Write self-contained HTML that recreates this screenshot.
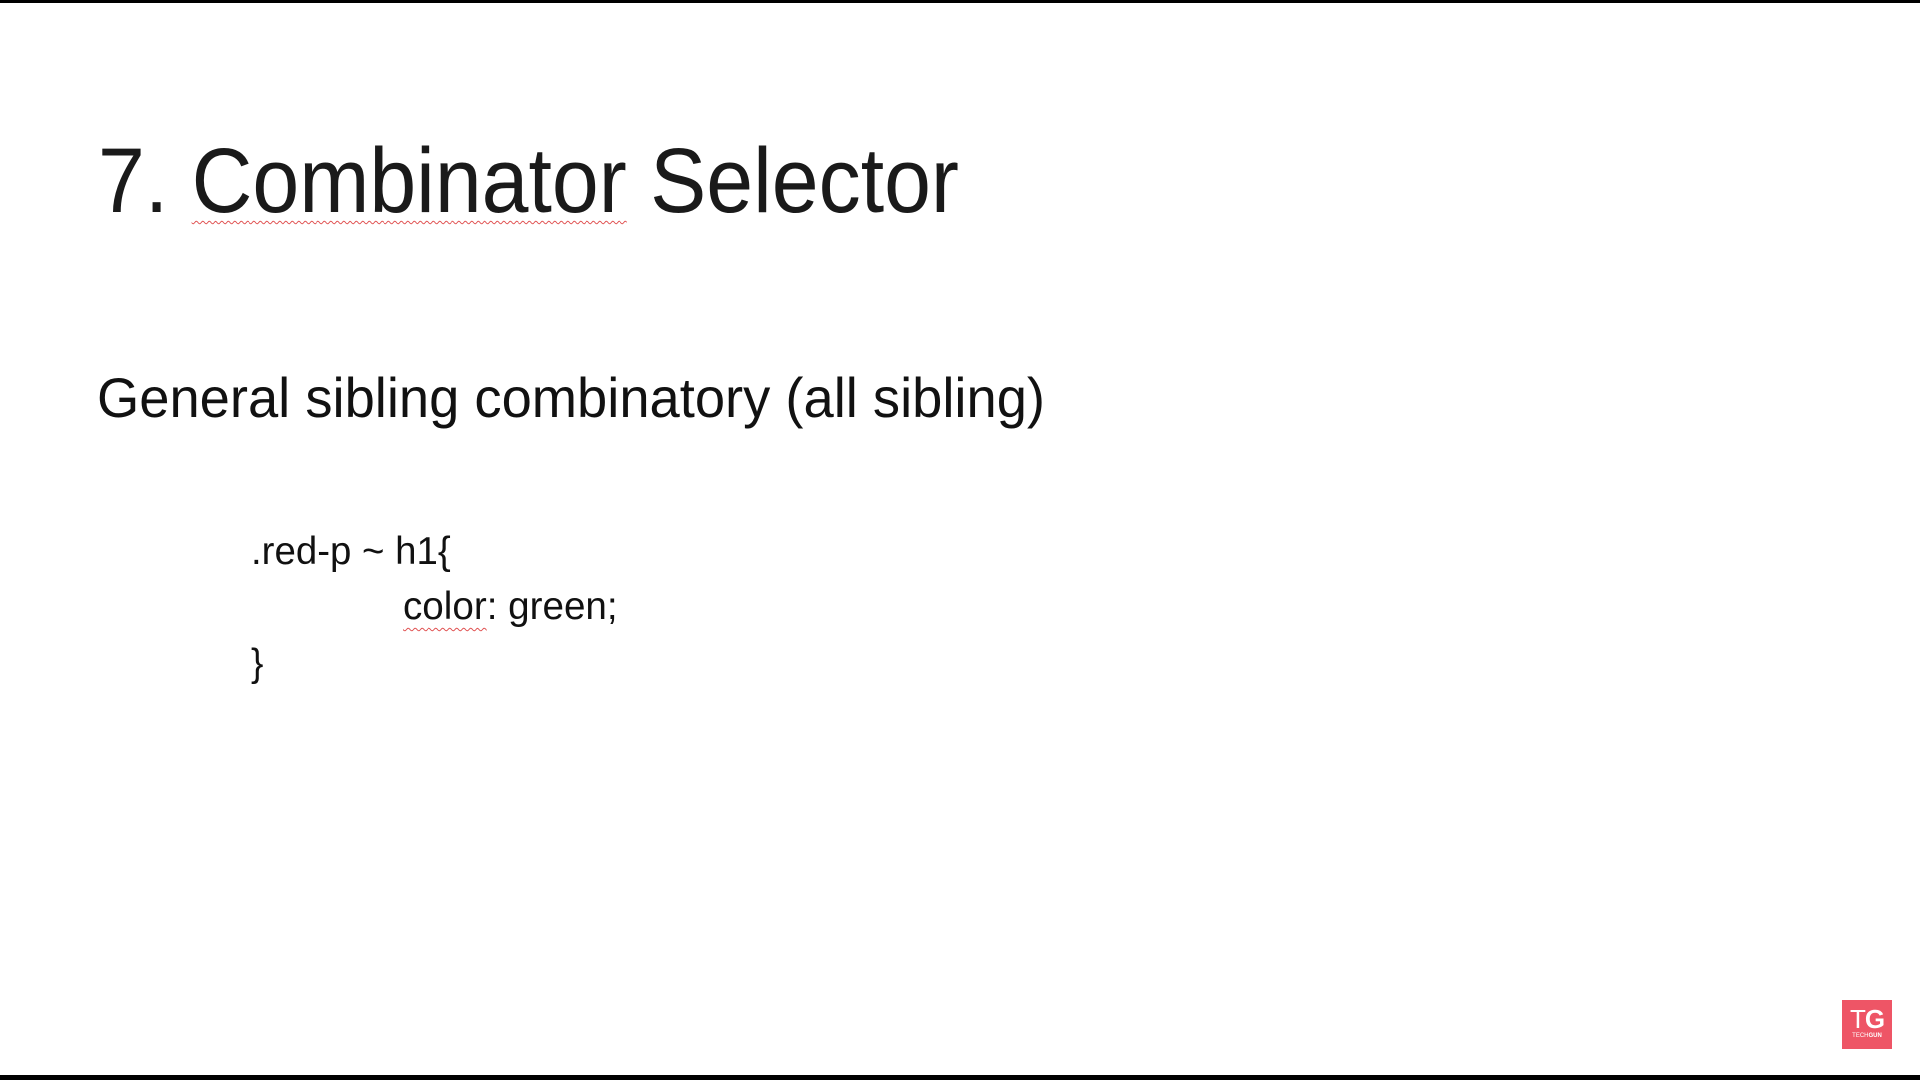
<!DOCTYPE html>
<html><head><meta charset="utf-8"><style>
html,body{margin:0;padding:0;width:1920px;height:1080px;overflow:hidden;background:#fff;font-family:"Liberation Sans",sans-serif;color:#111}
.t{position:absolute;white-space:nowrap;line-height:1;transform-origin:0 0}
.sq{text-decoration:underline wavy #e05050;text-decoration-thickness:1px;text-underline-offset:8px}
</style></head><body>
<div style="position:absolute;left:0;top:0;width:1920px;height:3px;background:#000"></div>
<div style="position:absolute;left:0;top:1075px;width:1920px;height:5px;background:#000"></div>
<div class="t" style="left:98px;top:135px;font-size:92px;transform:scaleX(0.915);color:#1a1a1a">7. <span class="sq">Combinator</span> Selector</div>
<div class="t" style="left:97px;top:370px;font-size:56px;transform:scaleX(0.97)">General sibling combinatory (all sibling)</div>
<div class="t" style="left:251px;top:532px;font-size:39px;transform:scaleX(0.985)">.red-p ~ h1{</div>
<div class="t" style="left:403px;top:587px;font-size:39px;transform:scaleX(0.99)"><span class="sq">color</span>: green;</div>
<div class="t" style="left:251px;top:644px;font-size:39px;transform:scaleX(0.95)">}</div>
<div style="position:absolute;left:1842px;top:1000px;width:50px;height:49px;background:#ee5566;color:#fff;text-align:center;font-family:'Liberation Sans',sans-serif">
<div style="font-size:26px;line-height:26px;margin-top:6px;font-weight:bold;letter-spacing:-1px"><span style="font-weight:normal">T</span>G</div>
<div style="font-size:6px;line-height:8px">TECH<b>GUN</b></div>
</div>
</body></html>
